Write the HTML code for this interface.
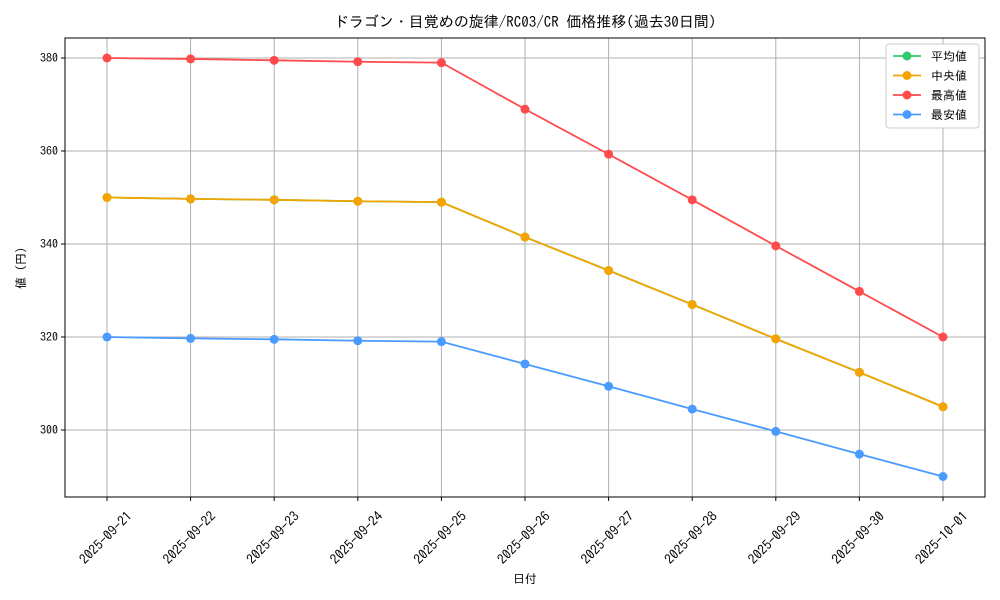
<!DOCTYPE html>
<html><head><meta charset="utf-8"><style>
body{margin:0;background:#fff;}
svg{display:block;font-family:"IPAGothic","Noto Sans CJK JP",sans-serif;}
</style></head><body>
<svg id="chart" width="1000" height="600"></svg>
<script>
const categories=["2025-09-21","2025-09-22","2025-09-23","2025-09-24","2025-09-25","2025-09-26","2025-09-27","2025-09-28","2025-09-29","2025-09-30","2025-10-01"];
const meanValues=[350,349.7,349.5,349.2,349,341.5,334.3,327,319.6,312.4,305];
const medianValues=[350,349.7,349.5,349.2,349,341.5,334.3,327,319.6,312.4,305];
const maxValues=[380,379.8,379.5,379.2,379,369,359.3,349.5,339.6,329.8,320];
const minValues=[320,319.7,319.5,319.2,319,314.2,309.4,304.5,299.7,294.8,290];
const yTicks=[300,320,340,360,380];
const seriesNames=["平均値","中央値","最高値","最安値"];
const NS="http://www.w3.org/2000/svg";
const svg=document.getElementById('chart');
const L=65,R=985,T=38,B=497;
const x0=107,dx=(943-107)/10;
function xs(i){return x0+i*dx;}
function ys(v){return 58+(380-v)*4.65;}
function el(tag,attrs,parent){const e=document.createElementNS(NS,tag);for(const k in attrs)e.setAttribute(k,attrs[k]);(parent||svg).appendChild(e);return e;}
categories.forEach((c,i)=>{
 const g=el('line',{x1:xs(i),x2:xs(i),y1:T,y2:B,stroke:'#b0b0b0','stroke-width':1});
 
 
 el('line',{x1:xs(i),x2:xs(i),y1:B,y2:B+4,stroke:'#000'});
 const t=el('text',{x:0,y:0,'font-size':13.5,'text-anchor':'middle',transform:`translate(${xs(i)+2},${B+44}) rotate(-45)`});
 t.textContent=c;
 
 
});
yTicks.forEach(v=>{
 const g=el('line',{x1:L,x2:R,y1:ys(v),y2:ys(v),stroke:'#b0b0b0','stroke-width':1});
 
 
 el('line',{x1:L-4,x2:L,y1:ys(v),y2:ys(v),stroke:'#000'});
 const t=el('text',{x:L-7,y:ys(v)+4,'font-size':12,'text-anchor':'end'});
 t.textContent=v;
 
 
});
const frame=el('rect',{x:L,y:T,width:R-L,height:B-T,fill:'none',stroke:'#000','stroke-width':1});


const series=[[meanValues,'#2ecc71','mean'],[medianValues,'#f5a300','median'],[maxValues,'#ff4b4b','max'],[minValues,'#4a9bff','min']];
series.forEach(([vals,col,nm])=>{
 const p=el('polyline',{points:vals.map((v,i)=>xs(i)+','+ys(v)).join(' '),fill:'none',stroke:col,'stroke-width':1.8});
 
 
 vals.forEach((v,i)=>{
  const c=el('circle',{cx:xs(i),cy:ys(v),r:4.5,fill:col});
  
  
 });
});
const title=el('text',{x:525,y:27,'font-size':15,'text-anchor':'middle'});
title.textContent='ドラゴン・目覚めの旋律/RC03/CR 価格推移(過去30日間)';


const xl=el('text',{x:525,y:583,'font-size':12,'text-anchor':'middle'});
xl.textContent='日付';


const yl=el('text',{x:0,y:0,'font-size':12,'text-anchor':'middle',transform:'translate(25,268) rotate(-90)'});
yl.textContent='値 (円)';


const lg=el('rect',{x:886,y:44,width:93,height:84,fill:'#fff',stroke:'#ccc',rx:3});


series.forEach(([v,col,nm],i)=>{
 const y=56+i*19.5;
 el('line',{x1:893,x2:921,y1:y,y2:y,stroke:col,'stroke-width':1.8});
 el('circle',{cx:907,cy:y,r:4.5,fill:col});
 const t=el('text',{x:931,y:y+4.5,'font-size':12});
 t.textContent=seriesNames[i];
 
 
});
</script>
</body></html>
